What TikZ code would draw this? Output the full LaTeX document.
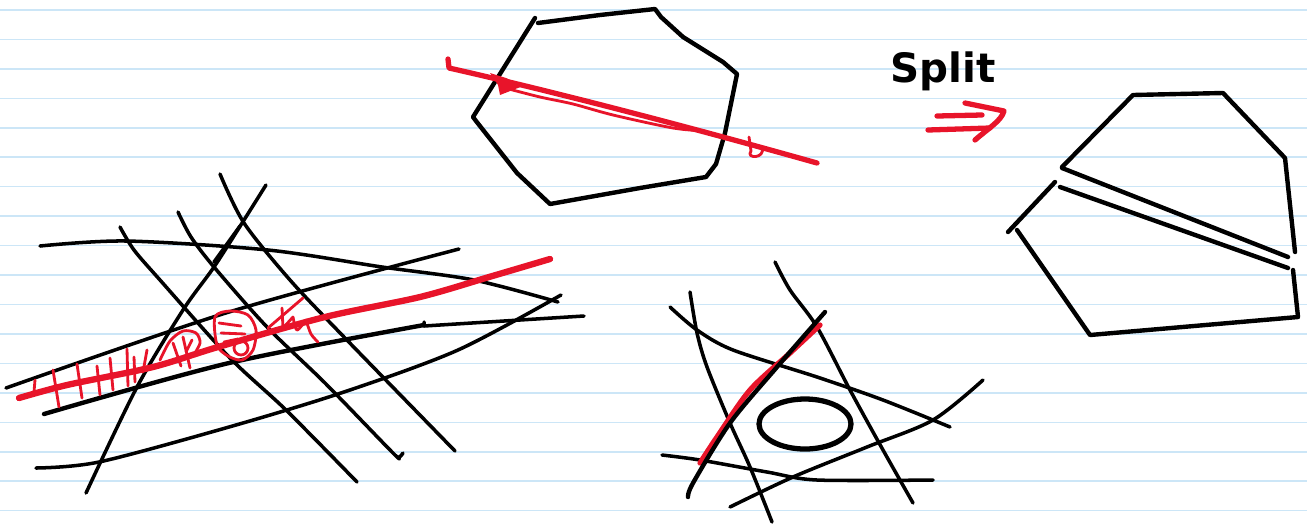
\documentclass[tikz,border=0pt]{standalone}
\usepackage{fontspec}
\newfontfamily\handfont{DejaVu Sans}
\usetikzlibrary{calc}
\definecolor{penred}{RGB}{232,20,42}
\definecolor{ruleblue}{RGB}{204,230,247}

\begin{document}
\begin{tikzpicture}[
  x=0.01cm, y=-0.01cm,
  pen/.style={draw=black, line width=1pt, line cap=round, line join=round},
  thickpen/.style={pen, line width=1.25pt},
  redpen/.style={draw=penred, line width=1.5pt, line cap=round, line join=round},
  thinred/.style={redpen, line width=0.8pt},
  rule/.style={draw=ruleblue, line width=0.45pt}
]
\useasboundingbox (0,0) rectangle (1307,527);
\fill[white] (0,0) rectangle (1307,527);
\foreach \k in {0,...,17}
  \draw[rule] (0,{10+29.45*\k}) -- (1307,{10+29.45*\k});

% grid of cuts
\draw[pen] plot[smooth] coordinates {(40,246) (126,241) (268,250) (382,267) (474,280) (558,302)};
\draw[pen] plot[smooth] coordinates {(6,388) (229,312) (459,249)};
\draw[thickpen] plot[smooth] coordinates {(44,414) (229,363) (424,325)};
\draw[pen] (424,322) -- (424,326) -- (584,316);
\draw[pen] plot[smooth] coordinates {(36,468) (99,462) (229,427) (344,392) (458,350) (561,295)};
\draw[pen] plot[smooth] coordinates {(86,493) (137,387) (183,310) (214,267) (244,220) (266,185)};
\draw[pen] (214,262) -- (240,226);
\draw[pen] plot[smooth] coordinates {(120,227) (134,250) (160,280) (229,357) (286,410) (357,482)};
\draw[pen] plot[smooth] coordinates {(178,212) (191,237) (214,267) (267,327) (325,383) (393,453) (399,457) (403,453)};
\draw[pen] plot[smooth] coordinates {(220,174) (244,223) (290,280) (344,337) (455,451)};

% red cut and hatching
\draw[redpen, line width=1.8pt] plot[smooth] coordinates {(19,398) (67,385) (153,367) (218,347) (325,317) (420,297) (489,277) (550,259)};
\foreach \xa/\ya/\xb/\yb in {35/380/34/392, 53/370/59/407, 77/364/82/398, 97/366/100/395,
    110/358/113/390, 127/349/128/386, 134/357/135/382, 147/350/143/372}
  \draw[thinred] (\xa,\ya) -- (\xb,\yb);
\draw[thinred] plot[smooth] coordinates {(160,360) (170,341) (183,331) (196,333) (200,343) (193,356)};
\draw[thinred] (173,343) -- (181,366);
\draw[thinred] (183,337) -- (190,368);
\draw[thinred] (192,340) -- (186,352);
\draw[thinred] plot[smooth cycle] coordinates {(215,317) (230,311) (248,315) (256,330) (253,350) (242,360) (228,356) (217,345)};
\draw[thinred] (219,323) -- (241,326);
\draw[thinred] (221,333) -- (245,334);
\draw[thinred] (224,342) -- (238,339);
\draw[thinred] (241,348) circle (7);
\draw[thinred] (303,298) -- (268,328);
\draw[thinred] (282,308) -- (283,328) -- (293,317);
\draw[thinred] plot[smooth] coordinates {(293,317) (297,330) (306,320)};
\draw[thinred] plot[smooth] coordinates {(306,320) (311,334) (318,342)};

% hexagon with cutting line
\draw[thickpen] (535,18) -- (473,117) -- (476,121) -- (517,173) -- (550,204)
  -- (640,188) -- (706,177) -- (716,164) -- (725,133) -- (737,74)
  -- (723,62) -- (683,37) -- (661,17) -- (655,9) -- (600,15) -- (538,23);
\draw[redpen] (448,59) -- (449,68) .. controls (560,93) and (700,130) .. (817,163);
\fill[penred] (490,73) -- (506,78) -- (523,86) -- (500,95) -- (498,85) -- cycle;
\draw[thinred] plot[smooth] coordinates {(505,88) (540,97) (573,104) (613,115) (673,128) (705,131)};
\draw[thinred] (749,137) -- (751,151) .. controls (745,159) and (766,159) .. (762,147);

% split arrow
\node[font=\handfont\bfseries\fontsize{11.5}{11.5}\selectfont] (split) at (943,71) {Split};
\draw[redpen] (937,116) -- (982,115);
\draw[redpen] (928,130) -- (990,128);
\draw[redpen] (965,103) -- (1004,111) .. controls (1001,121) and (990,127) .. (975,140);

% split pieces
\draw[thickpen] (1062,167) -- (1133,95) -- (1223,93) -- (1285,158) -- (1295,252);
\draw[thickpen] (1062,168) -- (1288,257);
\draw[thickpen] (1008,232) -- (1055,182);
\draw[thickpen] (1060,187) -- (1288,268);
\draw[thickpen] (1017,230) -- (1090,335) -- (1298,317) -- (1293,270);

% triangle of cuts around a hole
\draw[pen] plot[smooth] coordinates {(690,292) (697,333) (707,367) (730,423) (750,467) (772,522)};
\draw[pen] plot[smooth] coordinates {(775,262) (790,290) (817,327) (850,390) (883,450) (913,503)};
\draw[pen] plot[smooth] coordinates {(670,307) (697,330) (733,350) (817,377) (883,400) (950,427)};
\draw[pen] plot[smooth] coordinates {(662,455) (700,460) (767,472) (817,480) (933,480)};
\draw[pen] plot[smooth] coordinates {(730,507) (793,477) (867,447) (933,420) (983,380)};
\draw[redpen] plot[smooth] coordinates {(700,463) (717,437) (750,390) (790,353) (820,325)};
\draw[thickpen] plot[smooth] coordinates {(688,497) (693,483) (730,423) (777,367) (825,312)};
\draw[thickpen, line width=1.5pt] (805,424) ellipse (46 and 25);
\end{tikzpicture}
\end{document}
